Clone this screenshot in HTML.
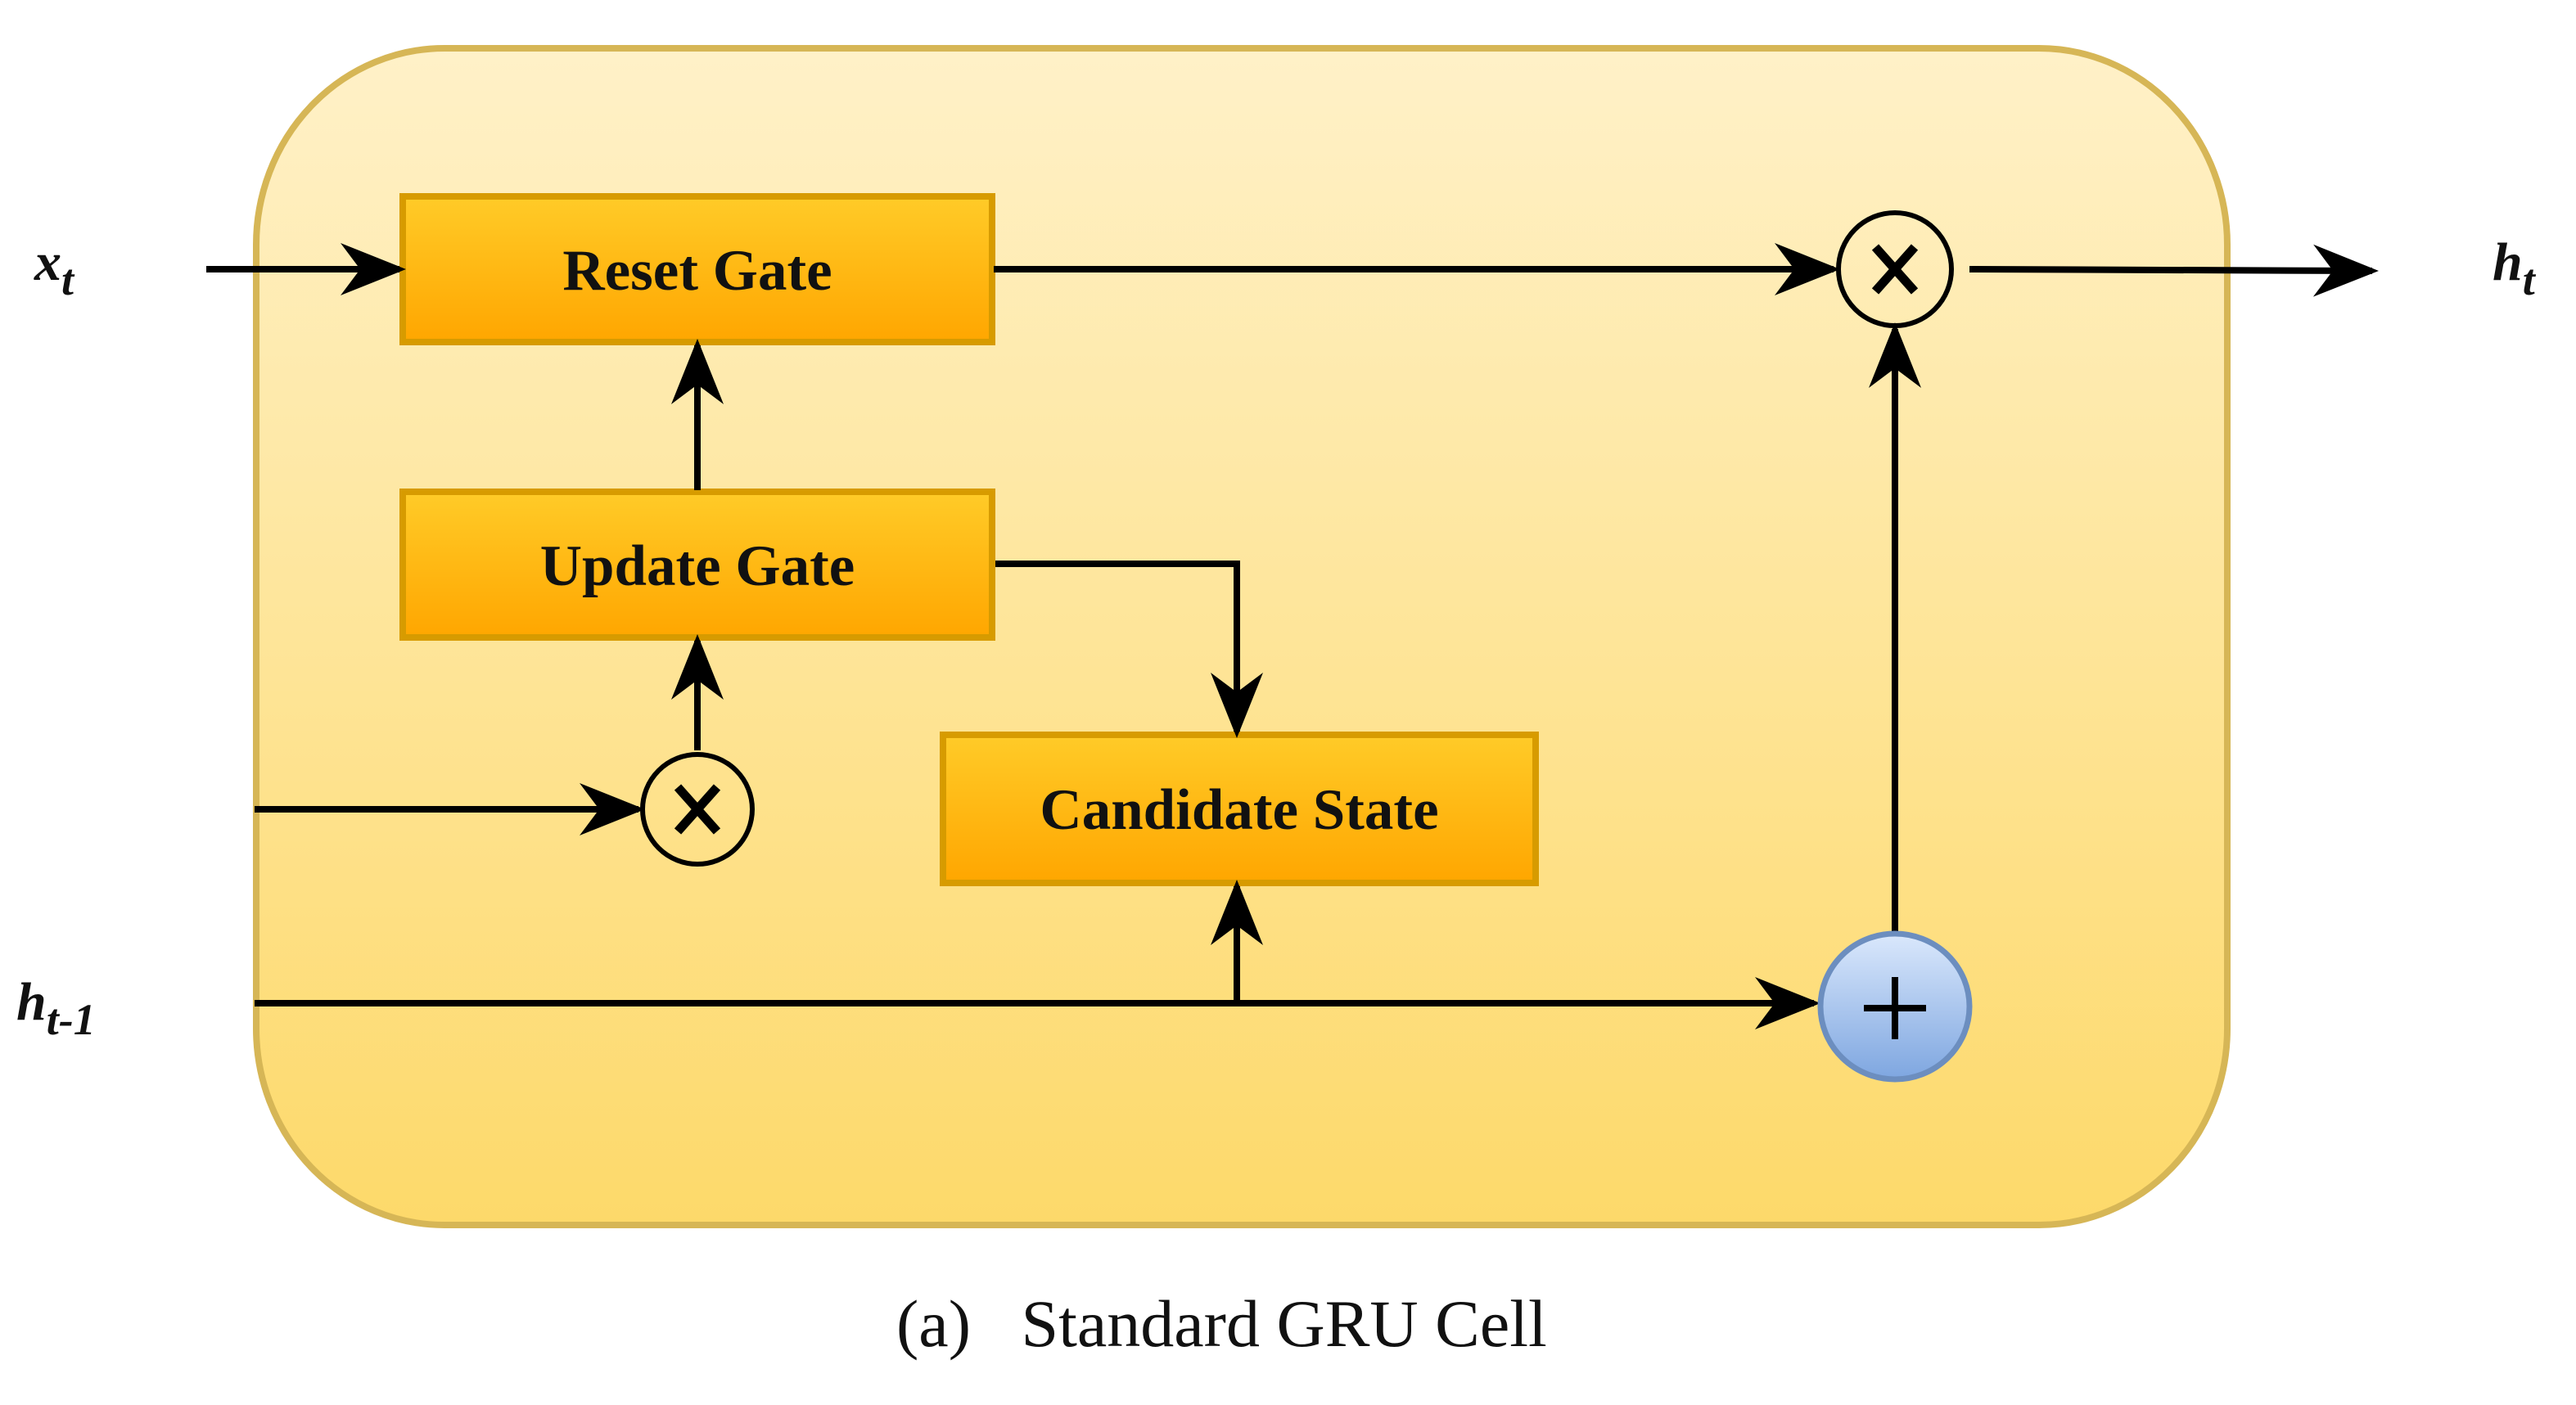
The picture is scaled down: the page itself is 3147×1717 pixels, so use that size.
<!DOCTYPE html>
<html><head><meta charset="utf-8"><style>
html,body{margin:0;padding:0;background:#fff;}
svg{display:block;}
</style></head><body>
<svg width="3147" height="1717" viewBox="0 0 3147 1717" xmlns="http://www.w3.org/2000/svg">
<defs>
<linearGradient id="bg" x1="0" y1="0" x2="0" y2="1"><stop offset="0" stop-color="#fff1c8"/><stop offset="1" stop-color="#fdd96a"/></linearGradient>
<linearGradient id="bx" x1="0" y1="0" x2="0" y2="1"><stop offset="0" stop-color="#ffcb28"/><stop offset="1" stop-color="#ffa600"/></linearGradient>
<linearGradient id="bl" x1="0" y1="0" x2="0" y2="1"><stop offset="0" stop-color="#dae8fc"/><stop offset="1" stop-color="#7ea6e0"/></linearGradient>
<marker id="a" viewBox="0 0 20 16" refX="18" refY="8" markerWidth="10" markerHeight="8" markerUnits="strokeWidth" orient="auto"><path d="M0,0 L20,8 L0,16 L6,8 Z" fill="#000"/></marker>
</defs>
<rect x="313" y="59" width="2408" height="1438" rx="230" ry="240" fill="url(#bg)" stroke="#d6b656" stroke-width="8"/>
<g stroke="#d79b00" stroke-width="8" fill="url(#bx)">
<rect x="492" y="240" width="720" height="178"/>
<rect x="492" y="601" width="720" height="178"/>
<rect x="1152" y="898" width="724" height="181"/>
</g>
<g font-family="'Liberation Serif',serif" font-weight="bold" font-size="71" text-anchor="middle" fill="#111">
<text x="852" y="354">Reset Gate</text>
<text x="852" y="715">Update Gate</text>
<text x="1514" y="1013">Candidate State</text>
</g>
<g stroke="#000" stroke-width="8" fill="none">
<line x1="252" y1="329" x2="488" y2="329" marker-end="url(#a)"/>
<line x1="1214" y1="329" x2="2240" y2="329" marker-end="url(#a)"/>
<line x1="2406" y1="329" x2="2898" y2="331" marker-end="url(#a)"/>
<line x1="852" y1="599" x2="852" y2="422" marker-end="url(#a)"/>
<line x1="852" y1="917" x2="852" y2="783" marker-end="url(#a)"/>
<line x1="311" y1="989" x2="780" y2="989" marker-end="url(#a)"/>
<line x1="311" y1="1226" x2="2216" y2="1226" marker-end="url(#a)"/>
<line x1="1511" y1="1226" x2="1511" y2="1083" marker-end="url(#a)"/>
<polyline points="1216,689 1511,689 1511,894" marker-end="url(#a)"/>
<line x1="2315" y1="1138" x2="2315" y2="402" marker-end="url(#a)"/>
</g>
<circle cx="2315" cy="329" r="69" fill="none" stroke="#000" stroke-width="6"/>
<circle cx="852" cy="989" r="67" fill="none" stroke="#000" stroke-width="6"/>
<g stroke="#000" stroke-width="11">
<line x1="2291" y1="302" x2="2339" y2="356"/><line x1="2339" y1="302" x2="2291" y2="356"/>
<line x1="828" y1="962" x2="876" y2="1016"/><line x1="876" y1="962" x2="828" y2="1016"/>
</g>
<ellipse cx="2315" cy="1230" rx="91" ry="89" fill="url(#bl)" stroke="#6c8ebf" stroke-width="7"/>
<g stroke="#000" stroke-width="8"><line x1="2277" y1="1232" x2="2353" y2="1232"/><line x1="2315" y1="1194" x2="2315" y2="1270"/></g>
<g font-family="'Liberation Serif',serif" font-weight="bold" font-style="italic" fill="#111">
<text x="42" y="342" font-size="66">x<tspan font-size="54" dy="18">t</tspan></text>
<text x="20" y="1246" font-size="66">h<tspan font-size="54" dy="18">t-1</tspan></text>
<text x="3045" y="342" font-size="66">h<tspan font-size="54" dy="18">t</tspan></text>
</g>
<text x="1095" y="1645" font-family="'Liberation Serif',serif" font-size="82" fill="#111" xml:space="preserve">(a)   Standard GRU Cell</text>
</svg>
</body></html>
